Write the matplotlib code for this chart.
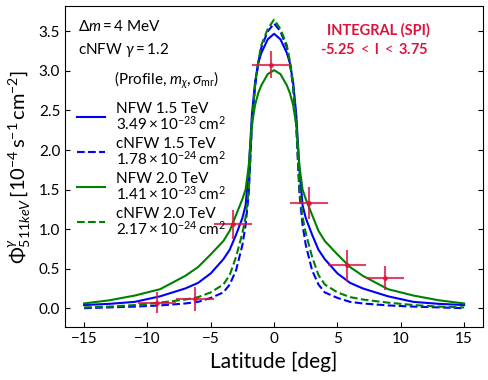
import numpy as np
import matplotlib
matplotlib.use("Agg")
import matplotlib.pyplot as plt

plt.rcParams['font.family'] = ['Lato', 'DejaVu Sans']
plt.rcParams['mathtext.fontset'] = 'custom'
plt.rcParams['mathtext.rm'] = 'Lato'
plt.rcParams['mathtext.it'] = 'Lato:italic'
plt.rcParams['mathtext.bf'] = 'Lato:bold'

# profils
lat = [-15, -13, -11, -9, -7, -6, -5, -4, -3.5, -3, -2.5, -2.25, -2, -1.75, -1.5, -1.25, -1, -0.5, 0,
       0.5, 1, 1.25, 1.5, 1.75, 2, 2.25, 2.5, 3, 3.5, 4, 5, 6, 7, 9, 11, 13, 15]
nfw_15 = [0.04, 0.055, 0.08, 0.15, 0.25, 0.32, 0.44, 0.62, 0.74, 0.93, 1.14, 1.30, 1.75, 2.45, 2.86, 3.10, 3.23, 3.40, 3.47,
          3.40, 3.23, 3.10, 2.86, 2.45, 1.75, 1.30, 1.14, 0.93, 0.74, 0.62, 0.44, 0.32, 0.25, 0.15, 0.08, 0.055, 0.04]
cnfw_15 = [0.00, 0.01, 0.02, 0.035, 0.06, 0.08, 0.13, 0.20, 0.30, 0.48, 0.80, 1.05, 1.45, 2.30, 2.80, 3.10, 3.30, 3.50, 3.60,
           3.50, 3.30, 3.10, 2.80, 2.30, 1.45, 1.05, 0.80, 0.48, 0.30, 0.20, 0.13, 0.08, 0.06, 0.035, 0.02, 0.01, 0.00]
nfw_20 = [0.06, 0.10, 0.16, 0.24, 0.41, 0.52, 0.68, 0.85, 0.98, 1.18, 1.38, 1.50, 1.80, 2.32, 2.57, 2.72, 2.82, 2.96, 3.01,
          2.96, 2.82, 2.72, 2.57, 2.32, 1.80, 1.50, 1.38, 1.18, 0.98, 0.85, 0.68, 0.52, 0.41, 0.24, 0.16, 0.10, 0.06]
cnfw_20 = [0.01, 0.02, 0.04, 0.07, 0.11, 0.14, 0.20, 0.30, 0.42, 0.65, 0.95, 1.15, 1.50, 2.35, 2.82, 3.12, 3.33, 3.53, 3.65,
           3.53, 3.33, 3.12, 2.82, 2.35, 1.50, 1.15, 0.95, 0.65, 0.42, 0.30, 0.20, 0.14, 0.11, 0.07, 0.04, 0.02, 0.01]

# points INTEGRAL/SPI
spi_l = [-9.25, -6.25, -3.25, -0.25, 2.75, 5.75, 8.75]
spi_flux = [0.07, 0.12, 1.06, 3.08, 1.33, 0.54, 0.38]
spi_lerr = [1.5, 1.5, 1.5, 1.5, 1.5, 1.5, 1.5]
spi_ferr = [0.13, 0.15, 0.18, 0.17, 0.20, 0.20, 0.15]

labels = ['NFW 1.5 TeV\n$3.49 \\times 10^{-23}\\,\\mathrm{cm}^2$',
          'cNFW 1.5 TeV\n$1.78 \\times 10^{-24}\\,\\mathrm{cm}^2$',
          'NFW 2.0 TeV\n$1.41 \\times 10^{-23}\\,\\mathrm{cm}^2$',
          'cNFW 2.0 TeV\n$2.17 \\times 10^{-24}\\,\\mathrm{cm}^2$']

fig = plt.figure(figsize=(4.89, 3.80), dpi=100)
ax = fig.add_axes([0.133, 0.139, 0.855, 0.845])

ax.plot(lat, nfw_15, color='blue', lw=1.5, label=labels[0])
ax.plot(lat, cnfw_15, color='blue', lw=1.5, ls='--', label=labels[1])
ax.plot(lat, nfw_20, color='green', lw=1.5, label=labels[2])
ax.plot(lat, cnfw_20, color='green', lw=1.5, ls='--', label=labels[3])
ax.errorbar(spi_l, spi_flux, xerr=spi_lerr, yerr=spi_ferr, fmt='.', color='crimson',
            ms=5, elinewidth=1.5, alpha=0.8)

ax.set_xlim(-16.5, 16.5)
ax.set_ylim(-0.24, 3.82)
ax.set_xticks([-15, -10, -5, 0, 5, 10, 15])
ax.set_yticks([0, 0.5, 1.0, 1.5, 2.0, 2.5, 3.0, 3.5])
ax.tick_params(direction='in', right=True, labelsize=11)
ax.set_xlabel('Latitude [deg]', fontsize=15)
ax.set_ylabel('$\\Phi^{\\gamma}_{511 keV}\\,[10^{-4}\\,\\mathrm{s}^{-1}\\,\\mathrm{cm}^{-2}]$', fontsize=14.5)

ax.text(0.03, 0.935, '$\\Delta m = 4$ MeV', transform=ax.transAxes, fontsize=11, va='center')
ax.text(0.03, 0.863, 'cNFW $\\gamma = 1.2$', transform=ax.transAxes, fontsize=11, va='center')
ax.text(0.117, 0.77, '(Profile, $m_{\\chi}, \\sigma_{\\mathrm{mr}}$)', transform=ax.transAxes,
        fontsize=11, va='center')
ax.text(0.75, 0.925, 'INTEGRAL (SPI)', transform=ax.transAxes, fontsize=10.5, color='crimson',
        weight='bold', ha='center', va='center')
ax.text(0.74, 0.865, '-5.25 $<$ l $<$ 3.75', transform=ax.transAxes, fontsize=10.5, color='crimson',
        weight='bold', ha='center', va='center')

leg = ax.legend(loc='upper left', bbox_to_anchor=(0.015, 0.72), frameon=False, fontsize=11,
                handlelength=1.8, handletextpad=0.7, labelspacing=0.3, borderaxespad=0.0)
for t in leg.get_texts():
    t.set_linespacing(0.9)

plt.savefig('out.png', dpi=100)
